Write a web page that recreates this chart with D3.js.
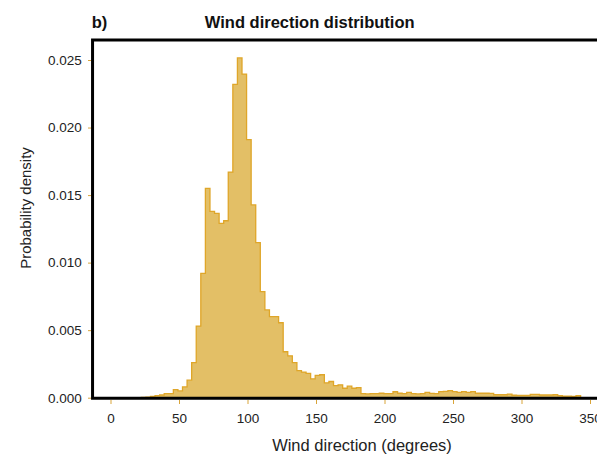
<!DOCTYPE html>
<html>
<head>
<meta charset="utf-8">
<script src="https://cdn.jsdelivr.net/npm/d3@7"></script>
<style>
  body { margin: 0; background: #fff; }
  svg { display: block; font-family: Arial, "Liberation Sans", sans-serif; }
</style>
</head>
<body>
<div id="chart"></div>
<script>
const width = 597, height = 456;

// histogram bins (degrees): left edge of first bin and common width
const binStart = 22.5;
const binWidth = 3.34;

// probability density of each bin
const density = [
  0.00003, 0.00005, 0.0001, 0.00015, 0.0002, 0.0003, 0.0003, 0.0006, 0.0005, 0.0008,
  0.0013, 0.0026, 0.0053, 0.0092, 0.0155, 0.0138, 0.01365, 0.0129, 0.0131, 0.0167,
  0.0232, 0.02515, 0.02396, 0.0191, 0.01427, 0.01148, 0.00785, 0.0065, 0.006, 0.006,
  0.00555, 0.0034, 0.0031, 0.0026, 0.002, 0.0019, 0.0018, 0.0014, 0.00165, 0.0017,
  0.0011, 0.0012, 0.0009, 0.00095, 0.0007, 0.00085, 0.0007, 0.00075, 0.0003, 0.00028,
  0.0003, 0.0003, 0.00033, 0.0003, 0.0003, 0.00044, 0.00033, 0.0003, 0.0004, 0.0003,
  0.00028, 0.0003, 0.0004, 0.00032, 0.0003, 0.00045, 0.00047, 0.00052, 0.00045, 0.0004,
  0.00045, 0.0004, 0.00045, 0.00033, 0.00033, 0.00033, 0.00032, 0.00022, 0.00022, 0.00022,
  0.00027, 0.00018, 0.00017, 0.00017, 0.00017, 0.00025, 0.00024, 0.0002, 0.0002, 0.0002,
  0.00022, 0.00015, 0.00012, 0.00012, 0.0001, 0.00015
];

const xTicks = [0, 50, 100, 150, 200, 250, 300, 350];
const yTicks = [0, 0.005, 0.010, 0.015, 0.020, 0.025];

const x = d3.scaleLinear().domain([0, 350]).range([110.5, 590]);
const y = d3.scaleLinear().domain([0, 0.025]).range([397.7, 60]);

const svg = d3.select('#chart').append('svg')
    .attr('width', width)
    .attr('height', height);

// step outline of the histogram
const pts = [{ deg: binStart, v: 0 }];
density.forEach(function (v, i) { pts.push({ deg: binStart + i * binWidth, v: v }); });
pts.push({ deg: binStart + density.length * binWidth, v: 0 });

svg.append('path')
    .datum(pts)
    .attr('fill', '#e3bf66')
    .attr('stroke', '#dfa629')
    .attr('stroke-width', 1.3)
    .attr('stroke-linejoin', 'miter')
    .attr('d', d3.line()
        .x(function (d) { return x(d.deg); })
        .y(function (d) { return y(d.v); })
        .curve(d3.curveStepAfter));

// axes
const yAxis = svg.append('g')
    .attr('transform', 'translate(91,0)')
    .call(d3.axisLeft(y).tickValues(yTicks).tickFormat(d3.format('.3f')).tickSize(3).tickPadding(6.3));

const xAxis = svg.append('g')
    .attr('transform', 'translate(0,400)')
    .call(d3.axisBottom(x).tickValues(xTicks).tickSize(4).tickPadding(9));

[yAxis, xAxis].forEach(function (g) {
  g.select('.domain').remove();
  g.selectAll('.tick line').attr('stroke', '#d9a53a');
  g.selectAll('.tick text')
      .attr('fill', '#222')
      .style('font-size', '13.5px')
      .style('font-family', 'Arial, "Liberation Sans", sans-serif');
});

// black frame (right side runs off the picture)
const left = x(-13.1), right = x(380);
svg.append('path')
    .attr('d', 'M' + right + ',' + 40 + 'H' + left + 'V' + 398.2 + 'H' + right)
    .attr('fill', 'none')
    .attr('stroke', '#000')
    .attr('stroke-width', 3);

// texts
svg.append('text')
    .attr('x', 91.7).attr('y', 27.5)
    .style('font-size', '16.5px').style('font-weight', 'bold')
    .attr('fill', '#111')
    .text('b)');

svg.append('text')
    .attr('x', 309.7).attr('y', 27.5)
    .attr('text-anchor', 'middle')
    .style('font-size', '16.5px').style('font-weight', 'bold')
    .attr('fill', '#111')
    .text('Wind direction distribution');

svg.append('text')
    .attr('x', 362).attr('y', 451)
    .attr('text-anchor', 'middle')
    .style('font-size', '16.5px')
    .attr('fill', '#222')
    .text('Wind direction (degrees)');

svg.append('text')
    .attr('transform', 'translate(31,208) rotate(-90)')
    .attr('text-anchor', 'middle')
    .style('font-size', '15px')
    .attr('fill', '#222')
    .text('Probability density');
</script>
</body>
</html>
